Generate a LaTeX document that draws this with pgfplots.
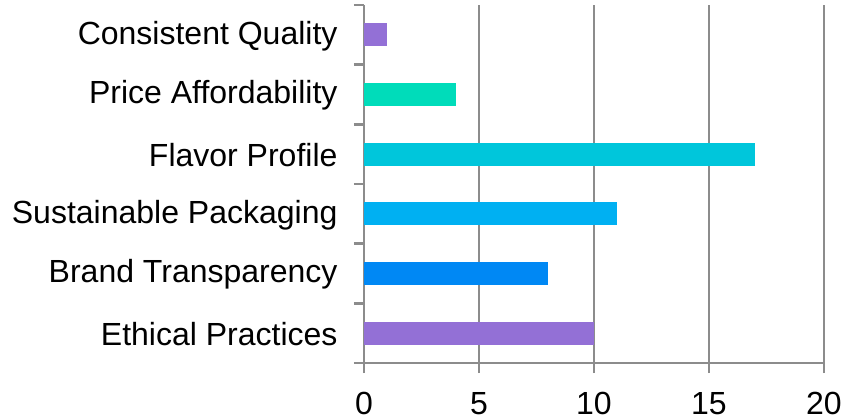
\documentclass[border=0pt]{standalone}
\usepackage{fontspec}
\setmainfont{Liberation Sans}
\usepackage{pgfplots}
\pgfplotsset{compat=1.18}
\definecolor{cPurple}{HTML}{9370D6}
\definecolor{cGreen}{HTML}{00DCBA}
\definecolor{cCyan}{HTML}{00C6DB}
\definecolor{cSky}{HTML}{00B0F2}
\definecolor{cBlue}{HTML}{0088F4}
\definecolor{gridgray}{HTML}{8C8C8C}
\begin{document}
\begin{tikzpicture}[x=1pt,y=1pt]
\path[use as bounding box] (0,0) rectangle (846,418);
\begin{axis}[
  at={(364pt,55pt)}, anchor=south west,
  scale only axis, width=460pt, height=358pt,
  xmin=0, xmax=20, ymin=-0.5, ymax=5.5,
  xbar, bar width=0.39, bar shift=0pt,
  axis lines=left, axis line style={-, gridgray, line width=2.8pt},
  xtick={0,5,10,15,20},
  xmajorgrids, major grid style={gridgray, line width=2.8pt},
  ytick={0,1,2,3,4,5},
  yticklabels={Ethical Practices, Brand Transparency, Sustainable Packaging, Flavor Profile, Price Affordability, Consistent Quality},
  minor ytick={-0.5,0.5,1.5,2.5,3.5,4.5,5.5},
  tick align=outside,
  major tick length=10pt, minor tick length=10pt,
  y tick style={draw=none},
  minor y tick style={draw=gridgray, line width=2.8pt},
  x tick style={gridgray, line width=2.8pt},
  tick label style={font=\fontsize{32}{38}\selectfont, text=black},
  /pgf/number format/assume math mode=true,
  yticklabel style={xshift=-13pt, yshift=-1pt},
  xticklabel style={yshift=-16pt},
  clip=false,
]
\addplot[fill=cPurple, draw=none] coordinates {(10,0)};
\addplot[fill=cBlue, draw=none] coordinates {(8,1)};
\addplot[fill=cSky, draw=none] coordinates {(11,2)};
\addplot[fill=cCyan, draw=none] coordinates {(17,3)};
\addplot[fill=cGreen, draw=none] coordinates {(4,4)};
\addplot[fill=cPurple, draw=none] coordinates {(1,5)};
\end{axis}
\end{tikzpicture}
\end{document}
